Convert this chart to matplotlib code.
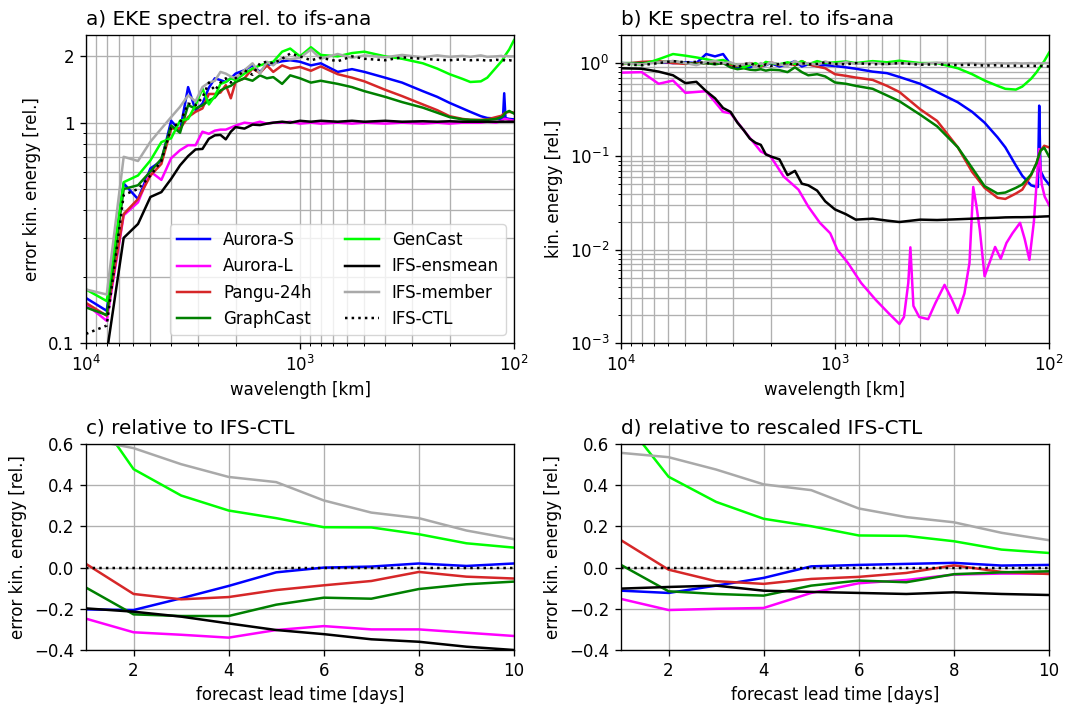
import numpy as np
import matplotlib
matplotlib.use("Agg")
import matplotlib.pyplot as plt
from matplotlib.ticker import NullFormatter, FixedLocator, FixedFormatter

# ---------------- data ----------------
names = ["Aurora-S", "Aurora-L", "Pangu-24h", "GraphCast", "GenCast",
         "IFS-ensmean", "IFS-member", "IFS-CTL"]
colors = ["#0000ff", "#ff00ff", "#d62728", "#008000", "#00ff00",
          "#000000", "#a9a9a9", "#000000"]

# spectral wavenumbers (wavelength = 40000 km / n)
wavenumber = [4, 5, 6, 7, 8, 9, 10, 11, 12, 13, 14, 15, 16, 17, 18, 19, 20, 22, 24, 26,
              28, 30, 33, 36, 40, 45, 50, 60, 70, 80, 100, 120, 150, 175, 200, 230, 250,
              280, 300, 330, 350, 355, 360, 365, 380, 400]

# panel a: EKE spectra relative to ifs-ana
eke_aurora_s = [0.16, 0.14, 0.53, 0.45, 0.62, 0.67, 1.02, 0.92, 1.45, 1.14, 1.22, 1.44, 1.59, 1.56,
                1.53, 1.59, 1.67, 1.73, 1.82, 1.70, 1.82, 1.86, 1.90, 1.92, 1.89, 1.82, 1.86, 1.70,
                1.75, 1.70, 1.60, 1.52, 1.39, 1.31, 1.23, 1.16, 1.12, 1.07, 1.05, 1.045, 1.04, 1.04,
                1.36, 1.05, 1.04, 1.035]
eke_aurora_l = [0.15, 0.126, 0.38, 0.435, 0.60, 0.55, 0.69, 0.75, 0.79, 0.79, 0.91, 0.89, 0.92, 0.93,
                0.93, 0.95, 0.97, 1.0, 0.99, 1.01, 0.99, 1.0, 1.0, 1.01, 0.99, 1.0, 0.99, 1.0,
                0.99, 1.0, 0.99, 1.0, 0.99, 1.0, 0.99, 1.0, 1.0, 1.0, 1.01, 1.0, 1.02, 1.03,
                1.04, 1.04, 1.03, 1.02]
eke_pangu = [0.152, 0.133, 0.385, 0.45, 0.575, 0.65, 0.94, 0.94, 1.06, 1.12, 1.16, 1.35, 1.35, 1.37,
             1.48, 1.29, 1.53, 1.59, 1.76, 1.68, 1.82, 1.70, 1.82, 1.76, 1.79, 1.72, 1.80, 1.66,
             1.60, 1.54, 1.41, 1.32, 1.21, 1.14, 1.07, 1.04, 1.03, 1.03, 1.035, 1.06, 1.075, 1.09,
             1.10, 1.11, 1.12, 1.11]
eke_graphcast = [0.145, 0.134, 0.50, 0.52, 0.60, 0.685, 0.97, 0.90, 1.20, 1.16, 1.20, 1.26, 1.30, 1.40,
                 1.44, 1.47, 1.53, 1.59, 1.55, 1.64, 1.59, 1.61, 1.50, 1.64, 1.59, 1.52, 1.55, 1.50,
                 1.45, 1.39, 1.31, 1.24, 1.17, 1.11, 1.06, 1.035, 1.03, 1.025, 1.03, 1.04, 1.06, 1.07,
                 1.09, 1.11, 1.13, 1.10]
eke_gencast = [0.175, 0.155, 0.537, 0.576, 0.674, 0.816, 0.85, 1.02, 1.04, 1.20, 1.43, 1.21, 1.32, 1.50,
               1.53, 1.59, 1.56, 1.67, 1.76, 1.82, 1.86, 1.89, 2.10, 2.17, 2.0, 2.2, 2.03, 2.0,
               2.07, 2.1, 2.0, 1.95, 1.86, 1.76, 1.66, 1.58, 1.53, 1.54, 1.60, 1.78, 1.90, 1.94,
               1.98, 2.03, 2.15, 2.37]
eke_ensmean = [0.07, 0.09, 0.30, 0.347, 0.46, 0.484, 0.556, 0.64, 0.705, 0.756, 0.76, 0.845, 0.876, 0.88,
               0.84, 0.91, 0.955, 0.94, 0.98, 0.975, 0.99, 1.0, 1.01, 1.0, 1.02, 1.01, 1.02, 1.01,
               1.02, 1.01, 1.02, 1.01, 1.015, 1.01, 1.015, 1.01, 1.01, 1.01, 1.01, 1.01, 1.01, 1.01,
               1.01, 1.01, 1.01, 1.01]
eke_member = [0.175, 0.166, 0.70, 0.67, 0.82, 0.94, 1.06, 1.18, 1.33, 1.25, 1.45, 1.52, 1.55, 1.70,
              1.67, 1.62, 1.59, 1.73, 1.86, 1.67, 1.89, 1.82, 1.97, 1.94, 1.97, 2.15, 1.95, 2.05,
              1.97, 2.02, 1.98, 2.03, 1.98, 2.02, 1.99, 2.01, 1.99, 2.02, 1.99, 2.0, 2.01, 1.99,
              2.0, 2.01, 2.0, 2.0]
eke_ctl = [0.11, 0.12, 0.47, 0.50, 0.575, 0.67, 0.95, 1.0, 1.22, 1.20, 1.30, 1.52, 1.40, 1.52,
           1.59, 1.52, 1.59, 1.73, 1.65, 1.86, 1.89, 1.86, 1.95, 2.06, 2.0, 1.92, 1.97, 1.90,
           2.0, 1.95, 1.92, 1.98, 1.95, 1.93, 1.92, 1.94, 1.92, 1.93, 1.91, 1.93, 1.92, 1.92,
           1.92, 1.91, 1.92, 1.91]

# panel b: KE spectra relative to ifs-ana
ke_aurora_s = [1.0, 0.98, 1.03, 1.0, 1.02, 1.0, 1.25, 1.18, 1.25, 0.97, 0.88, 0.92, 0.90, 0.97,
               0.93, 0.95, 1.0, 0.92, 0.97, 1.05, 0.92, 0.97, 0.93, 0.95, 0.93, 0.90, 0.87, 0.81,
               0.78, 0.71, 0.60, 0.49, 0.38, 0.30, 0.23, 0.16, 0.125, 0.08, 0.062, 0.049, 0.047, 0.047,
               0.35, 0.07, 0.058, 0.05]
ke_pangu = [0.97, 1.03, 1.05, 1.0, 0.98, 1.0, 1.0, 1.02, 1.0, 0.95, 0.93, 0.97, 1.0, 0.95,
            0.92, 0.97, 1.02, 0.95, 1.0, 0.95, 1.05, 0.97, 0.92, 0.88, 0.76, 0.73, 0.70, 0.66,
            0.57, 0.49, 0.32, 0.24, 0.125, 0.068, 0.046, 0.036, 0.035, 0.04, 0.044, 0.063, 0.085, 0.095,
            0.105, 0.115, 0.13, 0.125]
ke_graphcast = [1.0, 1.0, 1.02, 1.05, 1.0, 0.98, 1.0, 0.97, 1.0, 0.90, 0.86, 0.88, 0.85, 0.84,
                0.86, 0.83, 0.85, 0.84, 0.80, 0.90, 0.80, 0.74, 0.76, 0.72, 0.62, 0.60, 0.57, 0.53,
                0.45, 0.39, 0.28, 0.21, 0.125, 0.075, 0.048, 0.04, 0.041, 0.046, 0.05, 0.064, 0.085, 0.095,
                0.105, 0.115, 0.124, 0.10]
ke_gencast = [1.0, 0.96, 1.1, 1.25, 1.2, 1.15, 1.1, 1.05, 1.08, 1.0, 0.95, 0.9, 0.95, 1.0,
              0.93, 1.03, 1.0, 0.97, 1.02, 0.98, 1.05, 0.97, 1.05, 1.0, 1.02, 1.04, 1.0, 1.05,
              1.02, 1.06, 1.0, 1.0, 0.88, 0.76, 0.65, 0.57, 0.53, 0.52, 0.56, 0.68, 0.80, 0.84,
              0.88, 0.92, 1.05, 1.29]
ke_ensmean = [0.88, 0.87, 0.81, 0.74, 0.61, 0.63, 0.50, 0.42, 0.33, 0.30, 0.23, 0.19, 0.155, 0.14,
              0.133, 0.105, 0.10, 0.093, 0.063, 0.07, 0.051, 0.049, 0.043, 0.033, 0.027, 0.024, 0.021, 0.0215,
              0.0205, 0.0198, 0.021, 0.0208, 0.0212, 0.0215, 0.0218, 0.022, 0.0222, 0.0223, 0.0223, 0.0224, 0.0225, 0.0225,
              0.0226, 0.0226, 0.0227, 0.0228]
ke_member = [1.0, 0.97, 1.02, 1.05, 1.0, 0.95, 1.03, 1.05, 1.0, 1.02, 0.95, 0.97, 1.0, 0.9,
             1.0, 0.95, 1.02, 0.97, 0.93, 1.05, 0.97, 1.0, 0.96, 1.04, 0.97, 1.02, 0.98, 1.01,
             0.97, 1.0, 0.98, 1.01, 0.99, 1.0, 0.98, 1.0, 0.99, 1.0, 0.99, 1.0, 0.99, 1.0,
             1.0, 0.99, 1.0, 1.0]
ke_ctl = [0.97, 0.95, 1.0, 1.05, 1.02, 1.03, 1.0, 0.98, 1.0, 0.95, 0.9, 0.97, 1.0, 0.95,
          0.92, 0.97, 0.93, 0.98, 1.0, 0.95, 1.0, 0.97, 0.98, 1.02, 0.98, 0.97, 1.0, 0.97,
          0.98, 1.0, 0.96, 0.97, 0.95, 0.96, 0.94, 0.95, 0.93, 0.94, 0.93, 0.94, 0.93, 0.93,
          0.93, 0.93, 0.93, 0.92]
# Aurora-L (panel b) is spiky: own wavenumbers
wavenumber_aurora_l = [4, 5, 6, 7, 8, 10, 12, 13, 15, 18, 20, 23, 27, 30, 34, 38, 41, 46, 53, 62,
                       71, 80, 84, 88, 90, 93, 99, 109, 118, 130, 140, 150, 161, 170, 177, 183,
                       190, 200, 212, 224, 238, 253, 270, 293, 308, 324, 340, 359, 370, 382, 396, 400]
ke_aurora_l = [0.79, 0.80, 0.60, 0.65, 0.48, 0.50, 0.30, 0.29, 0.19, 0.113, 0.10, 0.061, 0.044, 0.029,
               0.0194, 0.015, 0.010, 0.0072, 0.0044, 0.0029, 0.0021, 0.0016, 0.0019, 0.0044, 0.0106,
               0.0025, 0.0019, 0.0018, 0.0027, 0.0042, 0.0030, 0.0021, 0.0034, 0.0072, 0.047, 0.03,
               0.0163, 0.0052, 0.0075, 0.0107, 0.008, 0.0118, 0.015, 0.0194, 0.013, 0.0078, 0.02,
               0.12, 0.05, 0.037, 0.0316, 0.03]

# panels c, d: forecast lead time
lead_days = [1, 2, 3, 4, 5, 6, 7, 8, 9, 10]
c_aurora_s = [-0.203, -0.206, -0.149, -0.089, -0.023, 0.0, 0.005, 0.02, 0.008, 0.02]
c_aurora_l = [-0.248, -0.314, -0.326, -0.34, -0.303, -0.284, -0.30, -0.30, -0.316, -0.332]
c_pangu = [0.018, -0.128, -0.154, -0.143, -0.109, -0.086, -0.065, -0.021, -0.044, -0.053]
c_graphcast = [-0.097, -0.227, -0.235, -0.235, -0.18, -0.146, -0.151, -0.104, -0.081, -0.068]
c_gencast = [0.81, 0.478, 0.35, 0.277, 0.24, 0.196, 0.195, 0.162, 0.118, 0.097]
c_ensmean = [-0.198, -0.214, -0.238, -0.271, -0.303, -0.323, -0.348, -0.36, -0.384, -0.40]
c_member = [0.625, 0.58, 0.502, 0.44, 0.415, 0.326, 0.267, 0.24, 0.18, 0.138]
c_ctl = [0, 0, 0, 0, 0, 0, 0, 0, 0, 0]

d_aurora_s = [-0.112, -0.123, -0.0875, -0.05, 0.006, 0.013, 0.018, 0.023, 0.01, 0.013]
d_aurora_l = [-0.152, -0.206, -0.20, -0.196, -0.123, -0.076, -0.06, -0.034, -0.029, -0.029]
d_pangu = [0.133, -0.01, -0.066, -0.079, -0.055, -0.045, -0.026, 0.011, -0.021, -0.031]
d_graphcast = [0.013, -0.115, -0.128, -0.136, -0.0875, -0.063, -0.071, -0.032, -0.023, -0.018]
d_gencast = [0.735, 0.441, 0.319, 0.237, 0.201, 0.156, 0.154, 0.128, 0.0875, 0.071]
d_ensmean = [-0.102, -0.094, -0.0875, -0.112, -0.118, -0.123, -0.128, -0.12, -0.128, -0.133]
d_member = [0.557, 0.536, 0.476, 0.404, 0.376, 0.287, 0.245, 0.22, 0.169, 0.133]
d_ctl = [0, 0, 0, 0, 0, 0, 0, 0, 0, 0]

# ---------------- figure ----------------
s = 1.2  # scale of matplotlib defaults
plt.rcParams.update({
    "font.family": ["DejaVu Sans"],
    "font.size": 10 * s,
    "axes.titlesize": 12 * s,
    "axes.labelsize": 10 * s,
    "xtick.labelsize": 10 * s,
    "ytick.labelsize": 10 * s,
    "legend.fontsize": 10 * s,
    "axes.linewidth": 0.8 * s,
    "xtick.major.size": 3.5 * s, "ytick.major.size": 3.5 * s,
    "xtick.minor.size": 2.0 * s, "ytick.minor.size": 2.0 * s,
    "xtick.major.width": 0.8 * s, "ytick.major.width": 0.8 * s,
    "xtick.minor.width": 0.6 * s, "ytick.minor.width": 0.6 * s,
    "xtick.major.pad": 3.5 * s, "ytick.major.pad": 3.5 * s,
    "axes.titlepad": 6.0 * s,
    "axes.labelpad": 4.0 * s,
})

fig = plt.figure(figsize=(10.68, 7.07), dpi=100)
W, H = 1068.0, 707.0

def add_ax(l, t, r, b):
    return fig.add_axes([l / W, 1 - b / H, (r - l) / W, (b - t) / H])

ax_a = add_ax(86, 35, 514, 343)
ax_b = add_ax(621, 35, 1049, 343)
ax_c = add_ax(86, 444, 514, 650)
ax_d = add_ax(621, 444, 1049, 650)

lw = 1.5 * s
grid_kw = dict(color="#b0b0b0", linewidth=0.8 * s)

wl = 40000.0 / np.array(wavenumber)
wl_l = 40000.0 / np.array(wavenumber_aurora_l)

eke = [eke_aurora_s, eke_aurora_l, eke_pangu, eke_graphcast, eke_gencast,
       eke_ensmean, eke_member, eke_ctl]
for name, col, vals in zip(names, colors, eke):
    ls = ":" if name == "IFS-CTL" else "-"
    ax_a.plot(wl, vals, color=col, lw=lw, ls=ls, label=name)

ke = [ke_aurora_s, None, ke_pangu, ke_graphcast, ke_gencast, ke_ensmean, ke_member, ke_ctl]
for name, col, vals in zip(names, colors, ke):
    ls = ":" if name == "IFS-CTL" else "-"
    if vals is None:
        ax_b.plot(wl_l, ke_aurora_l, color=col, lw=lw, ls=ls)
    else:
        ax_b.plot(wl, vals, color=col, lw=lw, ls=ls)

for ax in (ax_a, ax_b):
    ax.set_xscale("log")
    ax.set_yscale("log")
    ax.set_xlim(1e4, 1e2)
    ax.grid(True, which="both", **grid_kw)
    ax.set_axisbelow(True)
    ax.set_xlabel("wavelength [km]")

ax_a.set_ylim(0.1, 2.5)
ax_a.yaxis.set_major_locator(FixedLocator([0.1, 1, 2]))
ax_a.yaxis.set_major_formatter(FixedFormatter(["0.1", "1", "2"]))
ax_a.yaxis.set_minor_locator(FixedLocator([0.2, 0.3, 0.4, 0.5, 0.6, 0.7, 0.8, 0.9]))
ax_a.yaxis.set_minor_formatter(NullFormatter())
ax_a.set_ylabel("error kin. energy [rel.]")
ax_a.set_title("a) EKE spectra rel. to ifs-ana", loc="left")

ax_b.set_ylim(1e-3, 2.0)
ax_b.set_ylabel("kin. energy [rel.]")
ax_b.set_title("b) KE spectra rel. to ifs-ana", loc="left")

leg = ax_a.legend(ncol=2, loc="lower right", framealpha=0.8)

c_vals = [c_aurora_s, c_aurora_l, c_pangu, c_graphcast, c_gencast, c_ensmean, c_member, c_ctl]
d_vals = [d_aurora_s, d_aurora_l, d_pangu, d_graphcast, d_gencast, d_ensmean, d_member, d_ctl]
for ax, series in ((ax_c, c_vals), (ax_d, d_vals)):
    for name, col, vals in zip(names, colors, series):
        ls = ":" if name == "IFS-CTL" else "-"
        ax.plot(lead_days, vals, color=col, lw=lw, ls=ls)
    ax.set_xlim(1, 10)
    ax.set_ylim(-0.4, 0.6)
    ax.set_xticks([2, 4, 6, 8, 10])
    ax.set_yticks([-0.4, -0.2, 0.0, 0.2, 0.4, 0.6])
    ax.grid(True, **grid_kw)
    ax.set_axisbelow(True)
    ax.set_xlabel("forecast lead time [days]")
    ax.set_ylabel("error kin. energy [rel.]")

ax_c.set_title("c) relative to IFS-CTL", loc="left")
ax_d.set_title("d) relative to rescaled IFS-CTL", loc="left")

fig.savefig("out.png", dpi=100)
